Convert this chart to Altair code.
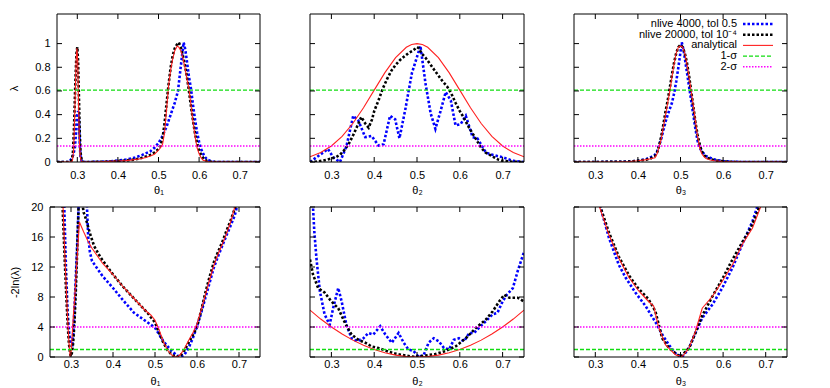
import altair as alt
import pandas as pd

# ---------------- data ----------------
X_TICKS = [0.3, 0.4, 0.5, 0.6, 0.7]
LAMBDA_TICKS = [0, 0.2, 0.4, 0.6, 0.8, 1.0]
CHI_TICKS = [0, 4, 8, 12, 16, 20]
SIGMA1_LAMBDA = 0.6065
SIGMA2_LAMBDA = 0.1353
SIGMA1_CHI = 1.0
SIGMA2_CHI = 4.0

# theta1, lambda
T1_X_BLUE = [0.25,0.278,0.282,0.286,0.29,0.294,0.297,0.300,0.302,0.304,0.306,0.308,0.311,0.315,0.35,0.38,0.40,0.42,0.44,0.46,0.48,0.49,0.50,0.51,0.52,0.53,0.54,0.548,0.553,0.558,0.562,0.566,0.57,0.575,0.58,0.585,0.59,0.595,0.60,0.605,0.61,0.615,0.62,0.63,0.64,0.75]
T1_Y_BLUE = [0,0,0.01,0.03,0.06,0.12,0.25,0.40,0.43,0.35,0.15,0.04,0.005,0,0.001,0.005,0.012,0.02,0.035,0.06,0.09,0.12,0.16,0.22,0.30,0.40,0.50,0.60,0.75,0.90,1.01,0.95,0.85,0.72,0.62,0.48,0.36,0.25,0.17,0.11,0.07,0.04,0.02,0.005,0,0]
T1_X_BLACK = [0.25,0.28,0.285,0.289,0.292,0.295,0.298,0.300,0.302,0.304,0.306,0.308,0.311,0.315,0.35,0.38,0.40,0.42,0.44,0.46,0.48,0.49,0.50,0.505,0.51,0.515,0.52,0.525,0.53,0.535,0.54,0.545,0.55,0.555,0.56,0.565,0.57,0.575,0.58,0.585,0.59,0.595,0.60,0.605,0.61,0.615,0.62,0.63,0.64,0.75]
T1_Y_BLACK = [0,0,0.01,0.06,0.30,0.65,0.92,0.97,0.85,0.55,0.25,0.08,0.01,0,0.001,0.004,0.008,0.013,0.02,0.035,0.06,0.08,0.11,0.14,0.20,0.33,0.50,0.66,0.80,0.90,0.96,0.99,1.01,0.97,0.90,0.82,0.72,0.60,0.47,0.35,0.24,0.16,0.10,0.06,0.035,0.018,0.008,0.002,0,0]
T1_X_RED = [0.25,0.28,0.285,0.288,0.291,0.294,0.297,0.299,0.301,0.303,0.305,0.307,0.31,0.315,0.35,0.38,0.40,0.42,0.44,0.46,0.48,0.49,0.50,0.505,0.51,0.515,0.52,0.525,0.53,0.535,0.54,0.546,0.55,0.555,0.56,0.565,0.57,0.575,0.58,0.585,0.59,0.595,0.60,0.605,0.61,0.62,0.63,0.75]
T1_Y_RED = [0,0,0.002,0.01,0.10,0.45,0.85,0.96,0.85,0.50,0.20,0.05,0.005,0,0.001,0.005,0.008,0.012,0.02,0.03,0.05,0.065,0.10,0.12,0.15,0.25,0.45,0.65,0.78,0.87,0.94,0.98,0.97,0.94,0.88,0.80,0.70,0.62,0.48,0.34,0.22,0.12,0.07,0.035,0.015,0.004,0,0]

# theta2, lambda
T2_X_BLUE = [0.25,0.273,0.292,0.304,0.32,0.335,0.351,0.363,0.379,0.394,0.41,0.422,0.437,0.449,0.459,0.473,0.488,0.508,0.52,0.532,0.543,0.555,0.567,0.579,0.59,0.602,0.614,0.63,0.641,0.661,0.677,0.70,0.724,0.75]
T2_Y_BLUE = [0,0.06,0.11,0.04,0,0.13,0.39,0.35,0.21,0.22,0.14,0.15,0.39,0.36,0.20,0.45,0.75,0.98,0.66,0.41,0.28,0.43,0.59,0.52,0.31,0.32,0.39,0.21,0.20,0.08,0.06,0.04,0.01,0]
T2_X_BLACK = [0.25,0.27,0.29,0.31,0.32,0.33,0.34,0.35,0.36,0.37,0.38,0.387,0.395,0.40,0.41,0.42,0.43,0.44,0.45,0.46,0.47,0.48,0.49,0.50,0.505,0.51,0.52,0.53,0.54,0.55,0.56,0.57,0.58,0.59,0.60,0.61,0.62,0.63,0.64,0.65,0.66,0.67,0.68,0.69,0.70,0.72,0.75]
T2_Y_BLACK = [0,0.005,0.02,0.04,0.06,0.10,0.15,0.22,0.30,0.38,0.32,0.29,0.36,0.43,0.52,0.62,0.70,0.77,0.82,0.86,0.89,0.92,0.94,0.97,0.96,0.92,0.88,0.83,0.78,0.73,0.68,0.64,0.58,0.50,0.43,0.37,0.30,0.24,0.18,0.12,0.08,0.06,0.04,0.02,0.01,0.003,0]
T2_X_RED = [0.25,0.275,0.30,0.325,0.35,0.375,0.40,0.425,0.45,0.475,0.4875,0.50,0.5125,0.525,0.55,0.575,0.60,0.625,0.65,0.675,0.70,0.725,0.75]
T2_Y_RED = [0.044,0.080,0.135,0.216,0.325,0.458,0.607,0.755,0.882,0.969,0.992,1.0,0.992,0.969,0.882,0.755,0.607,0.458,0.325,0.216,0.135,0.080,0.044]

# theta3, lambda
T3_X_BLUE = [0.25,0.35,0.38,0.40,0.42,0.43,0.44,0.445,0.45,0.455,0.46,0.465,0.47,0.475,0.48,0.485,0.49,0.495,0.50,0.503,0.507,0.51,0.515,0.52,0.525,0.53,0.535,0.54,0.545,0.55,0.555,0.56,0.57,0.58,0.60,0.62,0.65,0.75]
T3_Y_BLUE = [0,0.001,0.004,0.01,0.025,0.04,0.06,0.09,0.14,0.20,0.27,0.34,0.40,0.45,0.50,0.58,0.68,0.80,0.93,1.01,0.95,0.88,0.76,0.64,0.52,0.40,0.28,0.18,0.12,0.09,0.07,0.05,0.035,0.02,0.008,0.002,0,0]
T3_X_BLACK = [0.25,0.35,0.38,0.40,0.42,0.43,0.44,0.445,0.45,0.455,0.46,0.465,0.47,0.475,0.48,0.485,0.49,0.495,0.50,0.505,0.51,0.515,0.52,0.525,0.53,0.535,0.54,0.545,0.55,0.555,0.56,0.57,0.58,0.60,0.62,0.65,0.75]
T3_Y_BLACK = [0,0.001,0.003,0.01,0.02,0.03,0.05,0.08,0.14,0.22,0.32,0.43,0.52,0.63,0.74,0.84,0.92,0.97,0.99,0.97,0.92,0.84,0.73,0.60,0.47,0.34,0.23,0.15,0.09,0.06,0.04,0.025,0.015,0.005,0.001,0,0]
T3_X_RED = [0.25,0.35,0.38,0.40,0.42,0.43,0.44,0.445,0.45,0.455,0.46,0.465,0.47,0.475,0.48,0.485,0.49,0.495,0.50,0.505,0.51,0.515,0.52,0.525,0.53,0.535,0.54,0.545,0.55,0.555,0.56,0.57,0.58,0.60,0.62,0.65,0.75]
T3_Y_RED = [0,0.001,0.004,0.01,0.02,0.027,0.035,0.07,0.13,0.20,0.30,0.40,0.50,0.60,0.72,0.83,0.92,0.97,0.98,0.97,0.92,0.83,0.72,0.60,0.48,0.35,0.22,0.12,0.07,0.045,0.03,0.017,0.01,0.003,0.001,0,0]

# theta1, -2ln(lambda)
B1_X_BLUE = [0.28,0.284,0.288,0.292,0.296,0.300,0.303,0.306,0.31,0.314,0.318,0.322,0.335,0.338,0.341,0.345,0.35,0.375,0.40,0.425,0.45,0.475,0.50,0.51,0.52,0.53,0.54,0.55,0.56,0.57,0.58,0.59,0.60,0.61,0.62,0.63,0.64,0.65,0.66,0.67,0.68,0.69,0.695,0.70]
B1_Y_BLUE = [25,20,12,6,3,1.9,1.7,3.5,8.8,14,20,25,25,20,16,14,12.8,10.8,9.2,7.5,5.9,4.9,3.9,3.0,2.1,1.4,0.8,0.3,0,0.3,1.2,2.5,4.1,5.9,7.9,9.9,11.9,13.4,14.8,16.2,17.5,18.9,20,21]
B1_X_BLACK = [0.275,0.28,0.285,0.289,0.292,0.295,0.299,0.302,0.305,0.308,0.311,0.314,0.317,0.319,0.322,0.326,0.33,0.335,0.345,0.355,0.37,0.40,0.425,0.45,0.475,0.485,0.49,0.50,0.51,0.52,0.53,0.54,0.55,0.56,0.57,0.58,0.59,0.60,0.61,0.62,0.63,0.64,0.65,0.66,0.67,0.68,0.69,0.70]
B1_Y_BLACK = [25,20,13,8,4.5,1.8,0.1,0.5,1.8,4.3,8,13,18,22,26,21,19.3,18.5,16.5,14.8,13.3,11,9.3,7.8,6.3,5.7,5.3,4.6,3.2,1.9,0.9,0.3,0,0.15,0.9,1.9,2.9,4,6.2,8.6,10.7,12.6,14,15.3,16.8,18.2,19.8,21.5]
B1_X_RED = [0.275,0.281,0.285,0.289,0.292,0.295,0.298,0.300,0.305,0.31,0.315,0.32,0.33,0.34,0.35,0.375,0.40,0.425,0.45,0.475,0.49,0.50,0.51,0.52,0.53,0.54,0.548,0.555,0.56,0.57,0.58,0.59,0.60,0.61,0.62,0.63,0.64,0.65,0.66,0.67,0.68,0.69,0.70]
B1_Y_RED = [25,20,14,8.8,5,2,0.1,0.3,5,9,13.5,18,16.7,15.5,14.5,12.5,11,9.3,7.8,6.3,5.6,4.9,3.6,2.0,0.9,0.25,0,0.1,0.3,1.1,2.2,3.2,4.4,6.3,8.3,10.3,12.2,13.7,15,16.4,18,20,22]

# theta2, -2ln(lambda)
B2_X_BLUE = [0.255,0.257,0.26,0.265,0.273,0.284,0.296,0.304,0.316,0.324,0.335,0.347,0.359,0.375,0.386,0.398,0.414,0.426,0.441,0.457,0.469,0.48,0.492,0.504,0.516,0.527,0.539,0.551,0.563,0.575,0.586,0.598,0.61,0.622,0.633,0.645,0.661,0.677,0.688,0.70,0.71,0.724,0.735,0.743,0.75]
B2_Y_BLUE = [24,20,16.8,13.2,8.8,5.7,4.3,6.5,9.2,7.4,4.3,2.5,2.1,2.5,3.2,3.0,4.1,3.0,1.9,3.2,1.9,1.0,0.8,0,0.3,1.9,2.5,2.1,1.2,1.0,2.3,2.5,2.1,3.2,3.2,3.9,4.8,5.7,5.9,7.4,8.3,9.2,11.4,12.8,14]
B2_X_BLACK = [0.25,0.257,0.269,0.284,0.30,0.316,0.332,0.347,0.363,0.379,0.394,0.41,0.429,0.449,0.473,0.496,0.52,0.543,0.567,0.59,0.614,0.638,0.661,0.677,0.692,0.704,0.716,0.735,0.75]
B2_Y_BLACK = [13,11,9.2,8.6,7.4,6.5,4.5,3.0,2.3,1.9,1.4,1.2,0.8,0.45,0.2,0,0.2,0.4,0.8,1.4,2.5,3.9,5.0,6.1,7.4,8.3,7.9,7.9,7.4]
B2_X_RED = [0.25,0.275,0.30,0.325,0.35,0.375,0.40,0.425,0.45,0.475,0.50,0.525,0.55,0.575,0.60,0.625,0.65,0.675,0.70,0.725,0.75]
B2_Y_RED = [6.25,5.06,4.0,3.06,2.25,1.56,1.0,0.56,0.25,0.06,0,0.06,0.25,0.56,1.0,1.56,2.25,3.06,4.0,5.06,6.25]

# theta3, -2ln(lambda)
B3_X_BLUE = [0.305,0.312,0.332,0.355,0.371,0.394,0.418,0.433,0.445,0.457,0.473,0.488,0.504,0.52,0.535,0.551,0.575,0.598,0.622,0.645,0.669,0.68,0.69]
B3_Y_BLUE = [22,20,15.9,12.3,10.6,8.6,6.8,5.4,4.3,3.0,1.6,0.5,0,1.2,3.2,5.2,7.0,9.2,11.9,15,18.1,20,21.5]
B3_X_BLACK = [0.305,0.312,0.332,0.355,0.38,0.40,0.425,0.441,0.449,0.457,0.473,0.488,0.50,0.52,0.535,0.55,0.575,0.60,0.62,0.645,0.665,0.685,0.695]
B3_Y_BLACK = [22,20,16.6,13.4,10.8,9.2,7.7,6.1,4.3,2.5,1.2,0.5,0,1.2,3.2,5.4,8.1,10.6,12.8,15.3,17.2,20,21.5]
B3_X_RED = [0.30,0.31,0.332,0.355,0.379,0.402,0.425,0.437,0.449,0.465,0.488,0.504,0.52,0.535,0.551,0.575,0.598,0.622,0.645,0.669,0.688,0.70]
B3_Y_RED = [22,20,16.3,13.2,10.6,8.8,7.4,6.8,3.9,1.6,0.3,0.05,1.2,3.4,6.5,8.1,10.1,12.3,15,17.2,20,21.5]

LEGEND_LABELS = ["nlive 4000, tol 0.5", "nlive 20000, tol 10\u207b\u2074", "analytical", "1-\u03c3", "2-\u03c3"]

# ---------------- styles ----------------
FONT = "Liberation Sans"
STY_BLUE = dict(color="#0000ff", strokeWidth=2.6, strokeDash=[2.5, 2], strokeCap="butt")
STY_BLACK = dict(color="#000000", strokeWidth=2.6, strokeDash=[2.5, 2], strokeCap="butt")
STY_RED = dict(color="#ff2020", strokeWidth=1.1)
STY_GREEN = dict(color="#11dd11", strokeWidth=1.3, strokeDash=[4, 2])
STY_MAG = dict(color="#ff00ff", strokeWidth=1.5, strokeDash=[1.5, 1.5])
CURVE_STYLES = [STY_BLUE, STY_BLACK, STY_RED]
LEGEND_STYLES = [STY_BLUE, STY_BLACK, STY_RED, STY_GREEN, STY_MAG]
TICK = 5


def panel(curves, ydom, yticks, sig1, sig2, w, h, ytitle, xtitle, xlabpad, xtitlepad=4,
          x0=0, ylabpad=7, ytitlepad=8, legend=False):
    X = alt.X("x:Q", scale=alt.Scale(domain=[0.25, 0.75], range=[x0, w], nice=False, zero=False),
              axis=alt.Axis(values=X_TICKS, format="~g", title=xtitle, labelPadding=xlabpad,
                            titlePadding=xtitlepad))
    if ytitle is not None:
        yaxis = alt.Axis(values=yticks, format="~g", title=ytitle, labelPadding=ylabpad,
                         titlePadding=ytitlepad)
    else:
        yaxis = None
    Y = alt.Y("y:Q", scale=alt.Scale(domain=ydom, nice=False, zero=False), axis=yaxis)
    one = pd.DataFrame({"a": [0]})

    layers = []
    for (xs, ys), sty in zip(curves, CURVE_STYLES):
        df = pd.DataFrame({"x": xs, "y": ys})
        layers.append(alt.Chart(df).mark_line(clip=True, **sty).encode(x=X, y=Y))
    layers.append(alt.Chart(pd.DataFrame({"y": [sig1]})).mark_rule(**STY_GREEN).encode(
        y=Y, x=alt.value(x0), x2=alt.value(w)))
    layers.append(alt.Chart(pd.DataFrame({"y": [sig2]})).mark_rule(**STY_MAG).encode(
        y=Y, x=alt.value(x0), x2=alt.value(w)))

    xt = pd.DataFrame({"x": X_TICKS})
    yt = pd.DataFrame({"y": yticks})
    layers.append(alt.Chart(xt).mark_rule(color="black", strokeWidth=1).encode(
        x=X, y=alt.value(h), y2=alt.value(h - TICK)))
    layers.append(alt.Chart(xt).mark_rule(color="black", strokeWidth=1).encode(
        x=X, y=alt.value(0), y2=alt.value(TICK)))
    layers.append(alt.Chart(yt).mark_rule(color="black", strokeWidth=1).encode(
        y=Y, x=alt.value(x0), x2=alt.value(x0 + TICK)))
    layers.append(alt.Chart(yt).mark_rule(color="black", strokeWidth=1).encode(
        y=Y, x=alt.value(w), x2=alt.value(w - TICK)))
    # plot frame
    layers.append(alt.Chart(one).mark_rect(fillOpacity=0, stroke="black", strokeWidth=1).encode(
        x=alt.value(x0), x2=alt.value(w), y=alt.value(0), y2=alt.value(h)))

    if legend:
        for i, (lab, sty) in enumerate(zip(LEGEND_LABELS, LEGEND_STYLES)):
            ry = 10 + i * 10.7
            layers.append(alt.Chart(pd.DataFrame({"t": [lab]})).mark_text(
                align="right", baseline="middle", font=FONT, fontSize=11, color="black").encode(
                text="t:N", x=alt.value(w - 50), y=alt.value(ry)))
            layers.append(alt.Chart(one).mark_rule(**sty).encode(
                x=alt.value(w - 44), x2=alt.value(w - 14), y=alt.value(ry)))

    return alt.layer(*layers).properties(width=w, height=h)


TOP_H = 148
BOT_H = 150

t1 = panel([(T1_X_BLUE, T1_Y_BLUE), (T1_X_BLACK, T1_Y_BLACK), (T1_X_RED, T1_Y_RED)],
           [0, 1.25], LAMBDA_TICKS, SIGMA1_LAMBDA, SIGMA2_LAMBDA, 210, TOP_H, "\u03bb", "\u03b8\u2081", 7,
           x0=7, ylabpad=0, ytitlepad=15)
t2 = panel([(T2_X_BLUE, T2_Y_BLUE), (T2_X_BLACK, T2_Y_BLACK), (T2_X_RED, T2_Y_RED)],
           [0, 1.25], LAMBDA_TICKS, SIGMA1_LAMBDA, SIGMA2_LAMBDA, 214, TOP_H, None, "\u03b8\u2082", 7)
t3 = panel([(T3_X_BLUE, T3_Y_BLUE), (T3_X_BLACK, T3_Y_BLACK), (T3_X_RED, T3_Y_RED)],
           [0, 1.25], LAMBDA_TICKS, SIGMA1_LAMBDA, SIGMA2_LAMBDA, 213, TOP_H, None, "\u03b8\u2083", 7,
           legend=True)
b1 = panel([(B1_X_BLUE, B1_Y_BLUE), (B1_X_BLACK, B1_Y_BLACK), (B1_X_RED, B1_Y_RED)],
           [0, 20], CHI_TICKS, SIGMA1_CHI, SIGMA2_CHI, 210, BOT_H, "-2ln(\u03bb)", "\u03b8\u2081", 1,
           xtitlepad=6, ylabpad=7, ytitlepad=10)
b2 = panel([(B2_X_BLUE, B2_Y_BLUE), (B2_X_BLACK, B2_Y_BLACK), (B2_X_RED, B2_Y_RED)],
           [0, 20], CHI_TICKS, SIGMA1_CHI, SIGMA2_CHI, 214, BOT_H, None, "\u03b8\u2082", 1,
           xtitlepad=6)
b3 = panel([(B3_X_BLUE, B3_Y_BLUE), (B3_X_BLACK, B3_Y_BLACK), (B3_X_RED, B3_Y_RED)],
           [0, 20], CHI_TICKS, SIGMA1_CHI, SIGMA2_CHI, 213, BOT_H, None, "\u03b8\u2083", 1,
           xtitlepad=6)

chart = alt.concat(t1, t2, t3, b1, b2, b3, columns=3, bounds="flush",
                   spacing={"row": 45, "column": 50}).properties(
    padding={"left": 0, "top": 5, "right": 5, "bottom": 0}
).configure_view(strokeWidth=0).configure_axis(
    labelFont=FONT, labelFontSize=11, labelColor="black",
    titleFont=FONT, titleFontSize=11, titleFontWeight="normal", titleColor="black",
    ticks=False, domain=False, grid=False
)

chart.save("out.html", embed_options={"renderer": "svg", "actions": False})
